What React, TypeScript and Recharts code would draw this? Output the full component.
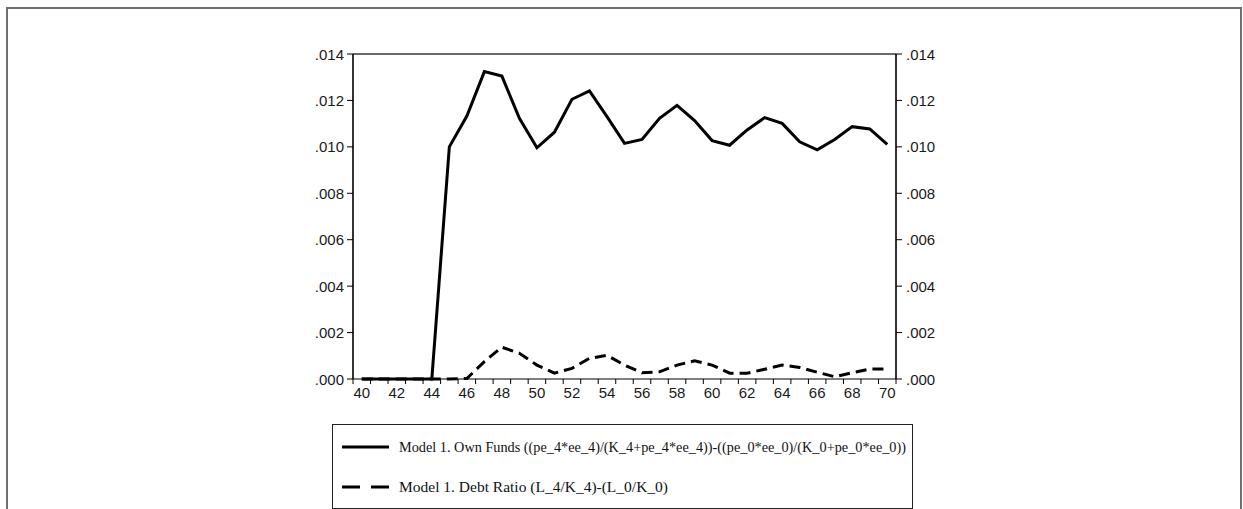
import React from 'react';
import { LineChart, Line, XAxis, YAxis, ReferenceLine } from 'recharts';

const years = [40, 41, 42, 43, 44, 45, 46, 47, 48, 49, 50, 51, 52, 53, 54, 55, 56, 57, 58, 59, 60, 61, 62, 63, 64, 65, 66, 67, 68, 69, 70];
const ownFunds = [0, 0, 0, 0, 0, 0.0100, 0.01133, 0.01324, 0.01305, 0.01123, 0.00996, 0.01063, 0.01205, 0.01241, 0.0113, 0.01015, 0.01032, 0.01123, 0.01179, 0.01113, 0.01027, 0.01007, 0.01073, 0.01126, 0.01101, 0.01022, 0.00987, 0.01032, 0.01087, 0.01077, 0.01011];
const debtRatio = [0, 0, 0, 0, 0, 0, 0.00002, 0.00075, 0.00137, 0.00111, 0.0006, 0.00025, 0.00046, 0.00089, 0.00102, 0.0006, 0.00027, 0.00031, 0.0006, 0.00078, 0.0006, 0.00025, 0.00025, 0.00042, 0.0006, 0.0005, 0.00029, 0.0001, 0.00027, 0.00043, 0.00043];
const yTicks = [0, 0.002, 0.004, 0.006, 0.008, 0.01, 0.012, 0.014];
const xLabelTicks = [40, 42, 44, 46, 48, 50, 52, 54, 56, 58, 60, 62, 64, 66, 68, 70];
const xMarkTicks = [39.5, 40.5, 41.5, 42.5, 43.5, 44.5, 45.5, 46.5, 47.5, 48.5, 49.5, 50.5, 51.5, 52.5, 53.5, 54.5, 55.5, 56.5, 57.5, 58.5, 59.5, 60.5, 61.5, 62.5, 63.5, 64.5, 65.5, 66.5, 67.5, 68.5, 69.5, 70.5];
const legendOwn = 'Model 1. Own Funds ((pe_4*ee_4)/(K_4+pe_4*ee_4))-((pe_0*ee_0)/(K_0+pe_0*ee_0))';
const legendDebt = 'Model 1. Debt Ratio (L_4/K_4)-(L_0/K_0)';

const data = years.map((y, i) => ({ year: y, own: ownFunds[i], debt: debtRatio[i] }));

const CHART_W = 1243;
const M_LEFT = 293;
const M_RIGHT = 287;
const Y_W = 60;
const PLOT_W = CHART_W - M_LEFT - M_RIGHT - 2 * Y_W;
const HALF_BAND = PLOT_W / years.length / 2;

const fmt = (v: number) => v.toFixed(3).replace(/^0/, '');
const FONT = '"Liberation Sans", Arial, sans-serif';
const FS = 15;
const legendFont = '"Liberation Serif", serif';

const XTick = (props: any) => {
  const { x, y, payload } = props;
  const label = payload.value + 0.5;
  if (!xLabelTicks.includes(label)) return null;
  return (
    <text x={x + HALF_BAND} y={y + 3} textAnchor="middle" dominantBaseline="hanging" fontFamily={FONT} fontSize={FS} fill="#1a1a1a">
      {label}
    </text>
  );
};

const YTickL = (props: any) => {
  const { x, y, payload } = props;
  return (
    <g>
      <line x1={x + 2} x2={x + 8} y1={y} y2={y} stroke="#000" strokeWidth={1} />
      <text x={x - 1} y={y} textAnchor="end" dominantBaseline="central" fontFamily={FONT} fontSize={FS} fill="#1a1a1a">{fmt(payload.value)}</text>
    </g>
  );
};

const YTickR = (props: any) => {
  const { x, y, payload } = props;
  return (
    <g>
      <line x1={x - 8} x2={x - 2} y1={y} y2={y} stroke="#000" strokeWidth={1} />
      <text x={x + 2} y={y} textAnchor="start" dominantBaseline="central" fontFamily={FONT} fontSize={FS} fill="#1a1a1a">{fmt(payload.value)}</text>
    </g>
  );
};

export default function App() {
  return (
    <div style={{ position: 'absolute', left: 0, top: 0, width: 1243, height: 509, overflow: 'hidden', background: '#fff' }}>
      <div style={{ position: 'absolute', left: 6, top: 7, width: 1236, height: 520, border: '2px solid #707070', boxSizing: 'border-box' }} />
      <div style={{ position: 'absolute', left: 0, top: 0 }}>
        <LineChart width={CHART_W} height={420} data={data} margin={{ top: 54, right: M_RIGHT, bottom: 11, left: M_LEFT }}>
          <XAxis dataKey="year" type="number" domain={[39.5, 70.5]} ticks={xMarkTicks} height={30}
            tick={<XTick />} tickSize={5} tickMargin={0} stroke="#000" interval={0} allowDataOverflow />
          <YAxis yAxisId="yl" orientation="left" domain={[0, 0.014]} ticks={yTicks} width={Y_W}
            tickSize={5} tickMargin={3} tick={<YTickL />} stroke="#000" axisLine={true} tickLine={false} interval={0} />
          <YAxis yAxisId="yr" orientation="right" domain={[0, 0.014]} ticks={yTicks} width={Y_W}
            tickSize={5} tickMargin={3} tick={<YTickR />} stroke="#000" axisLine={true} tickLine={false} interval={0} />
          <ReferenceLine yAxisId="yl" y={0.014} stroke="#6a6a6a" strokeWidth={2} />
          <ReferenceLine yAxisId="yl" x={39.5} stroke="#000" strokeWidth={1.2} />
          <ReferenceLine yAxisId="yl" x={70.5} stroke="#000" strokeWidth={1.2} />
          <Line yAxisId="yl" dataKey="own" stroke="#000" strokeWidth={3} dot={false} isAnimationActive={false} type="linear" />
          <Line yAxisId="yl" dataKey="debt" stroke="#000" strokeWidth={3} strokeDasharray="11 6" dot={false} isAnimationActive={false} type="linear" />
          <Line yAxisId="yr" dataKey="own" stroke="none" strokeWidth={0} dot={false} legendType="none" isAnimationActive={false} />
        </LineChart>
      </div>
      <div style={{ position: 'absolute', left: 332, top: 424, width: 581, height: 85, border: '1px solid #222', boxSizing: 'border-box', background: '#fff' }}>
        <svg width={579} height={83} style={{ display: 'block' }}>
          <line x1={9} x2={56} y1={22} y2={22} stroke="#000" strokeWidth={3} />
          <text x={66} y={27} fontFamily={legendFont} fontSize={14.3} fill="#111" textLength={507} lengthAdjust="spacingAndGlyphs">{legendOwn}</text>
          <line x1={9} x2={56} y1={62} y2={62} stroke="#000" strokeWidth={3} strokeDasharray="18 11" />
          <text x={66} y={67} fontFamily={legendFont} fontSize={14.3} fill="#111" textLength={269} lengthAdjust="spacingAndGlyphs">{legendDebt}</text>
        </svg>
      </div>
    </div>
  );
}
